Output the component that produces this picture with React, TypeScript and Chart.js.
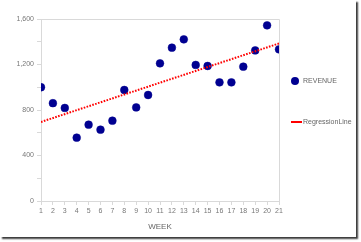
import React, { useEffect, useRef } from "react";
import { Chart, registerables } from "chart.js";

Chart.register(...registerables);

const weeks = [1, 2, 3, 4, 5, 6, 7, 8, 9, 10, 11, 12, 13, 14, 15, 16, 17, 18, 19, 20, 21];
const revenue = [1000, 860, 818, 557, 671, 627, 706, 976, 823, 932, 1210, 1348, 1421, 1196, 1187, 1043, 1043, 1181, 1324, 1544, 1333];
const regressionWeeks = [1, 21];
const regressionValues = [695, 1385];
const seriesNames = ["REVENUE", "RegressionLine"];
const xTitle = "WEEK";

const FONT = "'Liberation Sans', Arial, sans-serif";

const borderPlugin = {
  id: "plotBorder",
  afterDatasetsDraw(chart: any) {
    const { ctx, chartArea } = chart;
    ctx.save();
    ctx.strokeStyle = "#d9d9d9";
    ctx.lineWidth = 1;
    ctx.beginPath();
    ctx.moveTo(chartArea.left, chartArea.top + 0.5);
    ctx.lineTo(chartArea.right + 0.5, chartArea.top + 0.5);
    ctx.lineTo(chartArea.right + 0.5, chartArea.bottom);
    ctx.stroke();
    ctx.restore();
  },
};

export default function App() {
  const ref = useRef<HTMLCanvasElement>(null);
  useEffect(() => {
    if (!ref.current) return;
    const chart = new Chart(ref.current, {
      type: "scatter",
      data: {
        datasets: [
          {
            label: seriesNames[0],
            data: weeks.map((w, i) => ({ x: w, y: revenue[i] })),
            backgroundColor: "#000091",
            borderColor: "#000091",
            pointRadius: 3.9,
            borderWidth: 0.5,
            showLine: false,
            order: 1,
          },
          {
            label: seriesNames[1],
            data: regressionWeeks.map((w, i) => ({ x: w, y: regressionValues[i] })),
            borderColor: "#ff0000",
            backgroundColor: "#ff0000",
            borderWidth: 2,
            borderDash: [1.6, 1.4],
            pointRadius: 0,
            showLine: true,
            order: 0,
          },
        ],
      },
      options: {
        responsive: false,
        animation: false,
        layout: { padding: { left: 0, top: 19, right: 82, bottom: 10 } },
        plugins: { legend: { display: false }, tooltip: { enabled: false } },
        scales: {
          x: {
            type: "linear",
            min: 1,
            max: 21,
            afterFit: (s: any) => { s.height = 31; },
            ticks: {
              stepSize: 1,
              autoSkip: false,
              maxRotation: 0,
              color: "#777",
              font: { family: FONT, size: 7 },
              padding: 2,
            },
            grid: { drawOnChartArea: false, tickLength: 4, color: "#d9d9d9" },
            border: { color: "#d9d9d9" },
            title: {
              display: true,
              text: xTitle,
              color: "#666",
              font: { family: FONT, size: 8 },
              padding: { top: 4, bottom: 0 },
            },
          },
          y: {
            min: 0,
            max: 1600,
            afterFit: (s: any) => { s.width = 41; },
            ticks: {
              stepSize: 200,
              color: "#777",
              font: { family: FONT, size: 7 },
              padding: 3,
              callback: (v: any) => (Number(v) % 400 === 0 ? Number(v).toLocaleString("en-US") : ""),
            },
            grid: { drawOnChartArea: false, tickLength: 4, color: "#d9d9d9" },
            border: { color: "#d9d9d9" },
          },
        },
      },
      plugins: [borderPlugin],
    });
    return () => chart.destroy();
  }, []);

  return (
    <div style={{ position: "absolute", left: 0, top: 0, width: 361, height: 242, background: "#fff" }}>
      <div
        style={{
          position: "absolute",
          left: 0,
          top: 0,
          width: 356,
          height: 237,
          background: "#fff",
          boxShadow: "2px 2px 1.5px rgba(0,0,0,0.75)",
        }}
      />
      <canvas ref={ref} width={361} height={242} style={{ position: "absolute", left: 0, top: 0 }} />
      <div style={{ position: "absolute", left: 291, top: 75, fontFamily: FONT, fontSize: 7, color: "#666", lineHeight: "11px", whiteSpace: "nowrap" }}>
        <span style={{ display: "inline-block", width: 8, height: 8, borderRadius: "50%", background: "#000091", verticalAlign: "middle", margin: "0 4px 1px 0" }} />
        {seriesNames[0]}
      </div>
      <div style={{ position: "absolute", left: 291, top: 116, fontFamily: FONT, fontSize: 7, color: "#666", lineHeight: "11px", whiteSpace: "nowrap" }}>
        <span style={{ display: "inline-block", width: 11, height: 2, background: "#ff0000", verticalAlign: "middle", margin: "0 1px 1px 0" }} />
        {seriesNames[1]}
      </div>
    </div>
  );
}
